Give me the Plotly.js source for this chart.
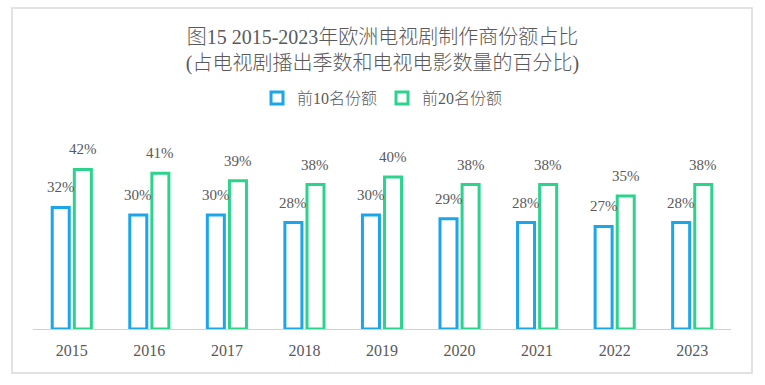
<!DOCTYPE html>
<html>
<head>
<meta charset="utf-8">
<script src="https://cdn.plot.ly/plotly-3.0.1.min.js"></script>
<style>html,body{margin:0;padding:0;background:#fff;}#chart{width:765px;height:385px;}</style>
</head>
<body>
<div id="chart"></div>
<script>
// ---- data ----
const years = ["2015","2016","2017","2018","2019","2020","2021","2022","2023"];
const top10 = [32, 30, 30, 28, 30, 29, 28, 27, 28];
const top20 = [42, 41, 39, 38, 40, 38, 38, 35, 38];
const seriesNames = ["前10名份额", "前20名份额"];
const titleText = "图15 2015-2023年欧洲电视剧制作商份额占比<br>(占电视剧播出季数和电视电影数量的百分比)";

// ---- styling ----
const W = 765, H = 385;
const M = {l: 33, r: 34, t: 130, b: 56};
const FONT = '"Liberation Serif", "Noto Sans CJK SC", serif';
const GRAY = '#595959';
const colors = ['#1BA6EA', '#2BD38D'];
const bargap = 0.43, bargroupgap = 0.23;
const plotW = W - M.l - M.r, plotH = H - M.t - M.b;
const pxPerUnit = 3.8;
const yMax = plotH / pxPerUnit;

const traces = [top10, top20].map((vals, i) => ({
  type: 'bar',
  name: seriesNames[i],
  x: years,
  y: vals,
  marker: {color: '#ffffff', line: {color: colors[i], width: 3}},
  hoverinfo: 'x+y+name'
}));

// data labels as annotations, centred on each bar of the group
const catW = plotW / years.length;
const groupW = catW * (1 - bargap);
const off = groupW / 4;
const annotations = [];
[top10, top20].forEach((vals, i) => {
  vals.forEach((v, j) => {
    annotations.push({
      x: j, y: v, xref: 'x', yref: 'y',   // category index on the category axis
      text: v + '%', showarrow: false,
      xshift: (i === 0 ? -off : off), yshift: 20,
      yanchor: 'middle', xanchor: 'center',
      font: {family: FONT, size: 15, color: GRAY}
    });
  });
});

// outer frame
const px2x = p => (p - M.l) / plotW;
const py2y = p => (H - M.b - p) / plotH;
const shapes = [{
  type: 'rect', xref: 'paper', yref: 'paper',
  x0: px2x(12), x1: px2x(752), y0: py2y(373), y1: py2y(8),
  line: {color: '#d9d9d9', width: 1.5}, fillcolor: 'rgba(0,0,0,0)', layer: 'below'
}];

const layout = {
  width: W, height: H,
  margin: M,
  paper_bgcolor: '#ffffff', plot_bgcolor: '#ffffff',
  font: {family: FONT, color: GRAY},
  title: {
    text: titleText,
    font: {family: FONT, size: 20, color: GRAY, weight: 300},
    x: 0.5, xanchor: 'center', xref: 'container',
    y: 1 - 44 / H, yanchor: 'top', yref: 'container'
  },
  showlegend: true,
  legend: {
    orientation: 'h', x: 0.5, xanchor: 'center', xref: 'container',
    y: 1 - 98 / H, yanchor: 'middle', yref: 'container',
    font: {family: FONT, size: 16, color: GRAY, weight: 300},
    itemwidth: 30, tracegroupgap: 0
  },
  barmode: 'group', bargap: bargap, bargroupgap: bargroupgap,
  xaxis: {
    type: 'category', range: [-0.5, years.length - 0.5],
    showline: true, linecolor: '#d0d0d0', linewidth: 1,
    showgrid: false, zeroline: false, ticks: '',
    ticklabelstandoff: 7,
    tickfont: {family: FONT, size: 16, color: GRAY},
    fixedrange: true
  },
  yaxis: {
    visible: false, range: [0, yMax], fixedrange: true, showgrid: false, zeroline: false
  },
  annotations: annotations,
  shapes: shapes
};

Plotly.newPlot('chart', traces, layout, {displayModeBar: false, staticPlot: true});
</script>
</body>
</html>
